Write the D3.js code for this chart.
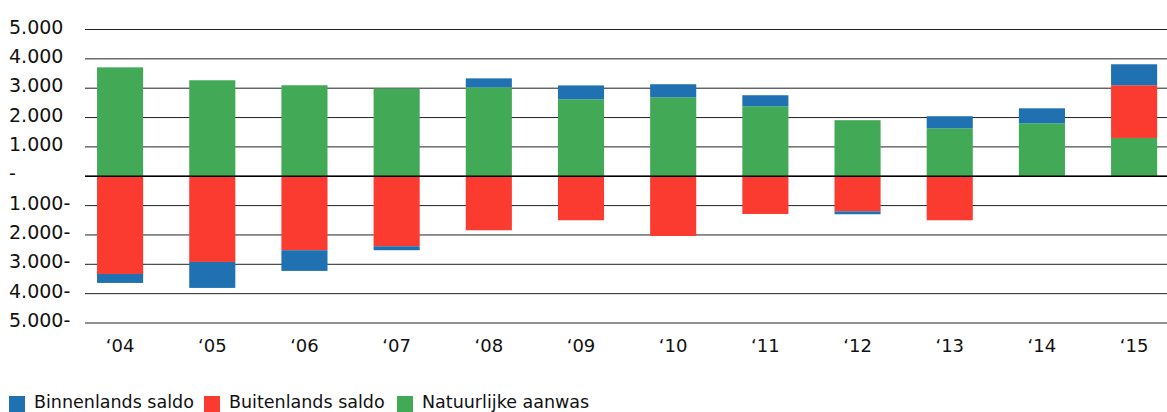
<!DOCTYPE html>
<html>
<head>
<meta charset="utf-8">
<script src="https://cdn.jsdelivr.net/npm/d3@7"></script>
<style>
  html, body { margin: 0; padding: 0; background: #fff; }
  svg { display: block; }
  text { font-family: "DejaVu Sans", sans-serif; fill: #111; }
</style>
</head>
<body>
<svg id="chart" width="1167" height="412"></svg>
<script>
// ---- data ----
const years = ["‘04","‘05","‘06","‘07","‘08","‘09","‘10","‘11","‘12","‘13","‘14","‘15"];
const natuurlijkeAanwas = [3710, 3270, 3100, 2990, 3030, 2620, 2690, 2385, 1910, 1635, 1805, 1305];
const buitenlandsSaldo  = [-3330, -2920, -2520, -2385, -1840, -1500, -2035, -1285, -1195, -1500, 0, 1795];
const binnenlandsSaldo  = [-305, -885, -705, -135, 305, 475, 445, 375, -100, 410, 510, 715];
const yTicks = [5000, 4000, 3000, 2000, 1000, 0, -1000, -2000, -3000, -4000, -5000];
const seriesNames = ["Binnenlands saldo", "Buitenlands saldo", "Natuurlijke aanwas"];
const seriesColors = ["#1f71b1", "#fb3b30", "#42a957"];

// ---- build table ----
const rows = years.map((y, i) => ({
  year: y,
  nat: natuurlijkeAanwas[i],
  buit: buitenlandsSaldo[i],
  binn: binnenlandsSaldo[i]
}));
const keys = ["nat", "buit", "binn"];
const colorByKey = { binn: seriesColors[0], buit: seriesColors[1], nat: seriesColors[2] };

const svg = d3.select("#chart");

const x = d3.scaleBand().domain(years).range([74, 1180.2]).paddingInner(0.5).paddingOuter(0.25);
const y = d3.scaleLinear().domain([-5000, 5000]).range([323, 29.5]);

const fmt = v => {
  if (v === 0) return "-";
  const s = d3.format(",")(Math.abs(v)).replace(/,/g, ".");
  return v < 0 ? s + "-" : s;
};

// gridlines
const grid = svg.append("g");
grid.selectAll("line").data(yTicks).join("line")
  .attr("x1", 85).attr("x2", 1167)
  .attr("y1", d => y(d)).attr("y2", d => y(d))
  .attr("stroke", "#222")
  .attr("stroke-width", 1);

// y labels
svg.append("g").selectAll("text").data(yTicks).join("text")
  .attr("x", 9)
  .attr("y", d => y(d) + 4)
  .attr("font-size", "19px")
  .text(fmt);

// stacks
const stack = d3.stack().keys(keys).offset(d3.stackOffsetDiverging);
const stacked = stack(rows);

svg.append("g").selectAll("g").data(stacked).join("g")
  .attr("fill", s => colorByKey[s.key])
  .selectAll("rect").data(s => s).join("rect")
  .attr("x", d => x(d.data.year))
  .attr("width", x.bandwidth())
  .attr("y", d => y(Math.max(d[0], d[1])))
  .attr("height", d => Math.abs(y(d[0]) - y(d[1])));

// zero line on top
svg.append("line")
  .attr("x1", 85).attr("x2", 1167)
  .attr("y1", y(0)).attr("y2", y(0))
  .attr("stroke", "#000").attr("stroke-width", 1.6);

// x axis labels
svg.append("g").selectAll("text").data(years).join("text")
  .attr("x", d => x(d) + x.bandwidth() / 2)
  .attr("y", 352)
  .attr("text-anchor", "middle")
  .attr("font-size", "18px")
  .text(d => d);

// legend
const legendX = [9, 204, 397];
const lg = svg.append("g").selectAll("g").data(seriesNames).join("g")
  .attr("transform", (d, i) => `translate(${legendX[i]},0)`);
lg.append("rect").attr("x", 0).attr("y", 396).attr("width", 16).attr("height", 16)
  .attr("fill", (d, i) => seriesColors[i]);
lg.append("text").attr("x", 25).attr("y", 407.5).attr("font-size", "17.5px").text(d => d);
</script>
</body>
</html>
